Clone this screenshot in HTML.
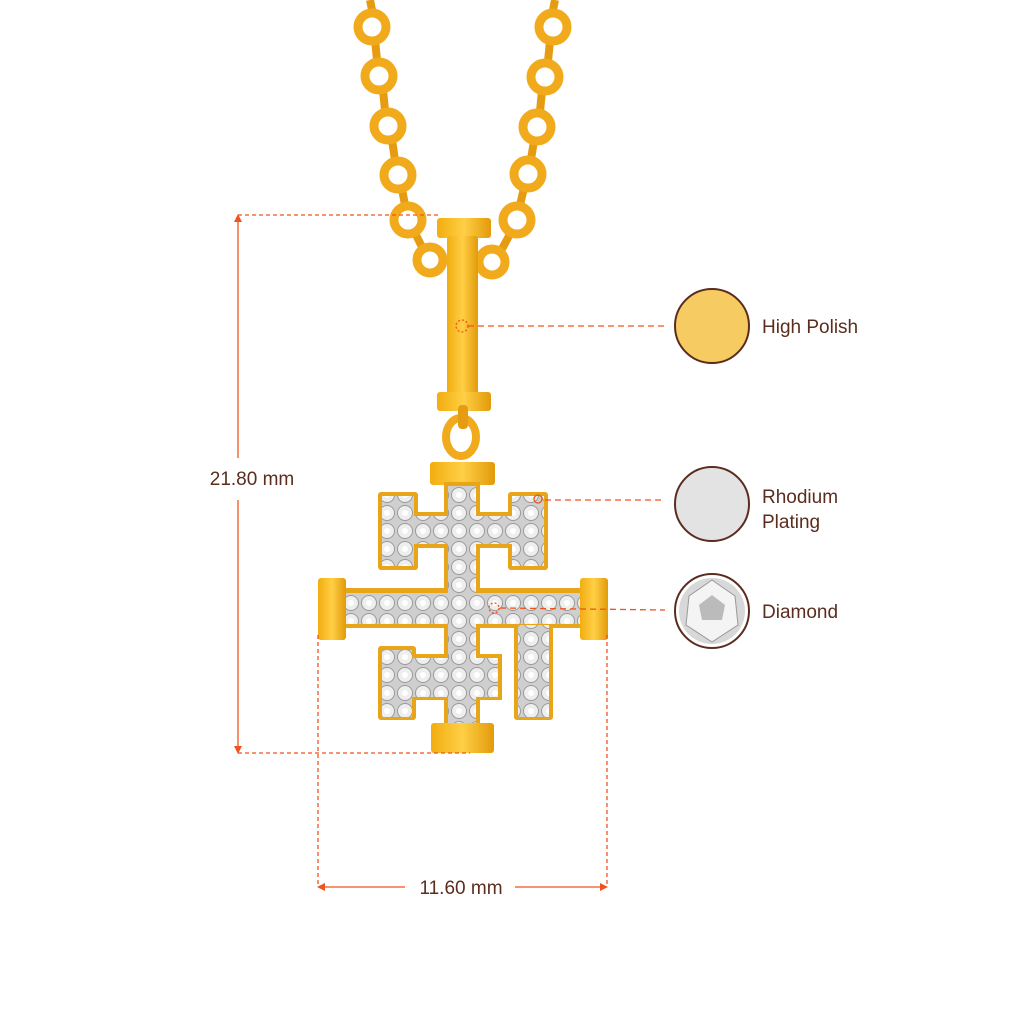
<!DOCTYPE html>
<html><head><meta charset="utf-8"><style>
html,body{margin:0;padding:0;background:#fff;}
svg{display:block;}
text{font-family:"Liberation Sans",sans-serif;}
</style></head><body>
<svg width="1024" height="1024" viewBox="0 0 1024 1024" xmlns="http://www.w3.org/2000/svg">
<defs>
<linearGradient id="g" x1="0" y1="0" x2="1" y2="0">
<stop offset="0" stop-color="#f2ad10"/><stop offset="0.5" stop-color="#ffcf45"/><stop offset="1" stop-color="#e29a0a"/>
</linearGradient>
<pattern id="dia" width="18" height="18" patternUnits="userSpaceOnUse">
<rect width="18" height="18" fill="#cfcfcf"/>
<circle cx="9" cy="9" r="7.5" fill="#eeeeee" stroke="#9a9a9a" stroke-width="1"/>
<circle cx="9" cy="9" r="3" fill="#ffffff"/>
</pattern>
</defs>
<!-- chain -->
<g fill="none" stroke="#e69c10" stroke-width="8">
<line x1="370" y1="0" x2="372" y2="10"/>
<line x1="375" y1="40" x2="377" y2="60"/>
<line x1="383" y1="90" x2="385" y2="110"/>
<line x1="392" y1="140" x2="395" y2="160"/>
<line x1="402" y1="189" x2="405" y2="205"/>
<line x1="415" y1="233" x2="422" y2="247"/>
<line x1="555" y1="0" x2="553" y2="10"/>
<line x1="550" y1="41" x2="548" y2="61"/>
<line x1="542" y1="91" x2="540" y2="111"/>
<line x1="534" y1="141" x2="531" y2="159"/>
<line x1="524" y1="188" x2="520" y2="205"/>
<line x1="510" y1="234" x2="502" y2="249"/>
</g>
<g fill="none" stroke="#f1aa1c" stroke-width="9">
<circle cx="372" cy="27" r="14"/>
<circle cx="379" cy="76" r="14"/>
<circle cx="388" cy="126" r="14"/>
<circle cx="398" cy="175" r="14"/>
<circle cx="408" cy="220" r="14"/>
<circle cx="430" cy="260" r="13"/>
<circle cx="553" cy="27" r="14"/>
<circle cx="545" cy="77" r="14"/>
<circle cx="537" cy="127" r="14"/>
<circle cx="528" cy="174" r="14"/>
<circle cx="517" cy="220" r="14"/>
<circle cx="492" cy="262" r="13"/>
</g>
<!-- bail -->
<rect x="437" y="218" width="54" height="20" rx="3" fill="url(#g)"/>
<rect x="447" y="236" width="31" height="160" rx="3" fill="url(#g)"/>
<rect x="437" y="392" width="54" height="19" rx="3" fill="url(#g)"/>
<ellipse cx="461" cy="437" rx="15" ry="19" fill="none" stroke="#f1aa1c" stroke-width="8"/>
<rect x="458" y="405" width="10" height="24" rx="4" fill="#e69c10"/>
<rect x="430" y="462" width="65" height="23" rx="3" fill="url(#g)"/>
<!-- cross gold edge -->
<g fill="#e8a51a">
<rect x="378" y="492" width="40" height="78" rx="3"/>
<rect x="508" y="492" width="40" height="78" rx="3"/>
<rect x="378" y="512" width="170" height="36"/>
<rect x="444" y="482" width="36" height="250"/>
<rect x="337" y="588" width="250" height="40"/>
<rect x="514" y="622" width="39" height="98" rx="3"/>
<rect x="378" y="646" width="38" height="74" rx="3"/>
<rect x="378" y="654" width="124" height="46"/>
</g>
<g fill="url(#dia)">
<rect x="382" y="496" width="32" height="70"/>
<rect x="512" y="496" width="32" height="70"/>
<rect x="382" y="516" width="162" height="28"/>
<rect x="448" y="486" width="28" height="242"/>
<rect x="341" y="593" width="241" height="31"/>
<rect x="518" y="625" width="31" height="92"/>
<rect x="382" y="650" width="30" height="67"/>
<rect x="382" y="658" width="116" height="39"/>
</g>
<rect x="318" y="578" width="28" height="62" rx="3" fill="url(#g)"/>
<rect x="580" y="578" width="28" height="62" rx="3" fill="url(#g)"/>
<rect x="431" y="723" width="63" height="30" rx="3" fill="url(#g)"/>
<!-- dimensions -->
<g stroke="#f0541e" stroke-width="1.3" fill="none">
<line x1="238" y1="215" x2="440" y2="215" stroke-dasharray="4,3"/>
<line x1="238" y1="753" x2="470" y2="753" stroke-dasharray="4,3"/>
<line x1="238" y1="218" x2="238" y2="458"/>
<line x1="238" y1="500" x2="238" y2="750"/>
<line x1="318" y1="635" x2="318" y2="885" stroke-dasharray="4,3"/>
<line x1="607" y1="635" x2="607" y2="885" stroke-dasharray="4,3"/>
<line x1="321" y1="887" x2="405" y2="887"/>
<line x1="515" y1="887" x2="604" y2="887"/>
<line x1="468" y1="326" x2="665" y2="326" stroke-dasharray="6,4"/>
<line x1="545" y1="500" x2="665" y2="500" stroke-dasharray="6,4"/>
<line x1="500" y1="608" x2="665" y2="610" stroke-dasharray="6,4"/>
<circle cx="462" cy="326" r="6" stroke-dasharray="2,2"/>
<circle cx="538" cy="499" r="4"/>
<circle cx="494" cy="608" r="5" stroke-dasharray="2,2"/>
</g>
<g fill="#f0541e">
<path d="M238 214 l-4 8 h8z"/><path d="M238 754 l-4 -8 h8z"/>
<path d="M317 887 l8 -4 v8z"/><path d="M608 887 l-8 -4 v8z"/>
</g>
<text x="252" y="485" font-size="19" fill="#5a2d1e" text-anchor="middle">21.80 mm</text>
<text x="461" y="894" font-size="19" fill="#5a2d1e" text-anchor="middle">11.60 mm</text>
<!-- legend -->
<circle cx="712" cy="326" r="37" fill="#f6cb62" stroke="#5a2d1e" stroke-width="2"/>
<circle cx="712" cy="504" r="37" fill="#e3e3e3" stroke="#5a2d1e" stroke-width="2"/>
<circle cx="712" cy="611" r="37" fill="#fff" stroke="#5a2d1e" stroke-width="2"/>
<circle cx="712" cy="611" r="33" fill="#d8d8d8"/>
<path d="M712 580 L735 596 L738 625 L712 642 L686 625 L689 596Z" fill="#f4f4f4" stroke="#999"/>
<path d="M712 595 L725 605 L722 620 L702 620 L699 605Z" fill="#bbb"/>
<g font-size="19" fill="#5a2d1e">
<text x="762" y="333">High Polish</text>
<text x="762" y="503">Rhodium</text>
<text x="762" y="528">Plating</text>
<text x="762" y="618">Diamond</text>
</g>
</svg>
</body></html>
